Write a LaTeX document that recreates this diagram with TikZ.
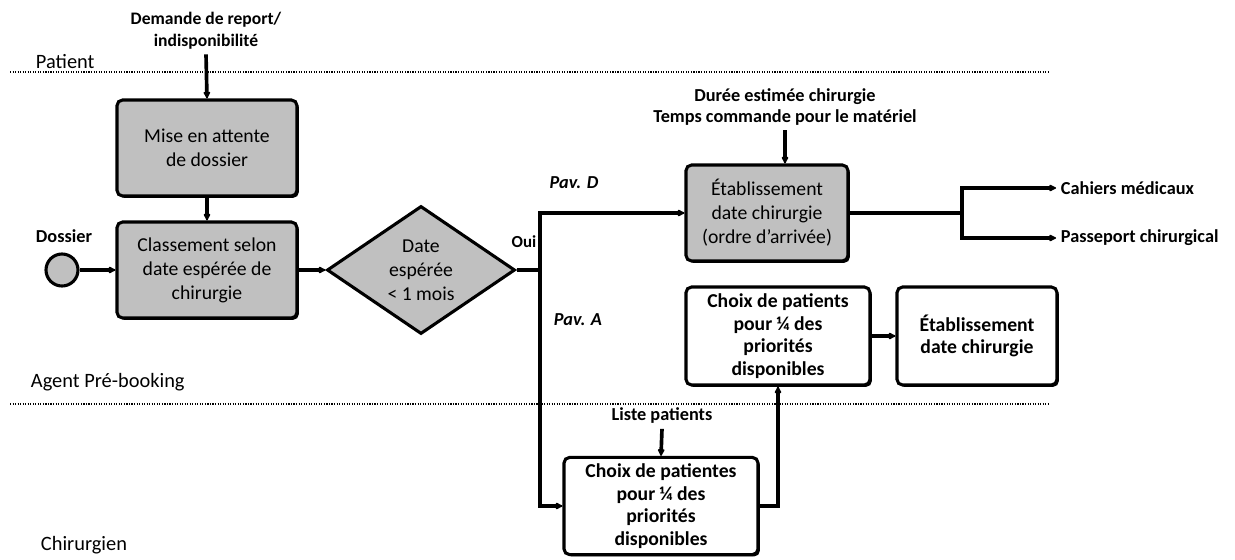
\documentclass[tikz,border=0pt]{standalone}
\usepackage{fontspec}
\setmainfont{Carlito}
\usetikzlibrary{shapes.geometric,arrows.meta,shadows}
\definecolor{boxgray}{RGB}{192,192,192}

\begin{document}
\begin{tikzpicture}[x=0.025cm,y=-0.025cm]
		\tikzstyle {task} = [rectangle, rounded corners=4pt, draw, line width=2.2pt, fill=boxgray, align=center,
		                     drop shadow={shadow xshift=1.3pt, shadow yshift=-1.3pt, fill=black, opacity=1},
		                     font=\fontsize{14}{17}\selectfont]
		\tikzstyle {choice} = [task, fill=white, font=\fontsize{14}{16}\selectfont\bfseries]
		\tikzstyle {test} = [diamond, draw, line width=2.2pt, fill=boxgray, align=center, inner sep=0pt, shape aspect=1.47,
		                     minimum width=4.7cm, minimum height=3.2cm, font=\fontsize{14}{17}\selectfont]
		\tikzstyle {info} = [align=center, font=\fontsize{13}{15.5}\selectfont\bfseries]
		\tikzstyle {lane} = [font=\fontsize{14.5}{17}\selectfont, anchor=west]
		\tikzstyle {flow} = [line width=2.6pt, -{Latex[length=6pt,width=6pt,round]}]
		\tikzstyle {link} = [line width=2.6pt]
		\tikzstyle {separator} = [densely dotted, line width=0.8pt]

		\useasboundingbox (0,0) rectangle (1235,559);

		% couloirs
		\node[lane] (patient) at (31,62) {Patient};
		\node[lane] (agent) at (26,382) {Agent Pré-booking};
		\node[lane] (chirurgien) at (36,545) {Chirurgien};
		\draw[separator] (10,72) -- (1050,72);
		\draw[separator] (10,404) -- (1050,404);

		% entrees
		\node[info, font=\fontsize{12.5}{15.5}\selectfont\bfseries] (demande) at (206,31) {Demande de report/\\indisponibilité};
		\node[info, font=\fontsize{13}{14.5}\selectfont\bfseries] (duree) at (785,107) {Durée estimée chirurgie\\Temps commande pour le matériel};
		\node[info] (liste) at (662,416) {Liste patients};
		\node[info, font=\fontsize{12}{14}\selectfont\bfseries] (oui) at (524,242) {Oui};
		\node[info, font=\fontsize{13}{15}\selectfont\bfseries\itshape] (pavD) at (574,183) {Pav. D};
		\node[info, font=\fontsize{13}{15}\selectfont\bfseries\itshape] (pavA) at (578,320) {Pav. A};
		\node[info] (dossierlbl) at (64,236) {Dossier};

		% activites
		\node[circle, draw, line width=2.2pt, fill=boxgray, minimum size=0.8cm] (dossier) at (62,270) {};
		\node[task, minimum width=4.5cm, minimum height=2.4cm] (attente) at (207,148) {Mise en attente\\de dossier};
		\node[task, minimum width=4.5cm, minimum height=2.4cm] (classement) at (207,270) {Classement selon\\date espérée de\\chirurgie};
		\node[test] (date) at (421,270) {Date\\espérée\\< 1 mois};
		\node[task, minimum width=4.05cm, minimum height=2.4cm] (etab) at (767,213) {Établissement\\date chirurgie\\(ordre d’arrivée)};
		\node[choice, minimum width=4.6cm, minimum height=2.45cm] (choixA) at (778,336) {Choix de patients\\pour ¼ des\\priorités\\disponibles};
		\node[choice, minimum width=4.0cm, minimum height=2.45cm] (etabA) at (977,336) {Établissement\\date chirurgie};
		\node[choice, minimum width=4.85cm, minimum height=2.43cm] (choixC) at (661,506) {Choix de patientes\\pour ¼ des\\priorités\\disponibles};

		% sorties
		\node[info, anchor=west] (cahiers) at (1056,188) {Cahiers médicaux};
		\node[info, anchor=west] (passeport) at (1056,238) {Passeport chirurgical};

		\coordinate (fourche) at (540,270);
		\coordinate (partage) at (962,213);

		% liens
		\draw[flow] (demande.south) -- (attente.north);
		\draw[flow] (attente.south) -- (classement.north);
		\draw[flow] (dossier.east) -- (classement.west);
		\draw[flow] (classement.east) -- (date.west);
		\draw[link] (date.east) -- (fourche);
		\draw[flow] (fourche) |- (etab.west);
		\draw[flow] (fourche) |- (choixC.west);
		\draw[flow] (duree.south) -- (duree.south |- etab.north);
		\draw[link] (etab.east) -- (partage);
		\draw[flow] (partage) |- (cahiers.west);
		\draw[flow] (partage) |- (passeport.west);
		\draw[flow] (liste.south) -- (choixC.north);
		\draw[flow] (choixC.east) -| (choixA.south);
		\draw[flow] (choixA.east) -- (etabA.west);
\end{tikzpicture}
\end{document}
